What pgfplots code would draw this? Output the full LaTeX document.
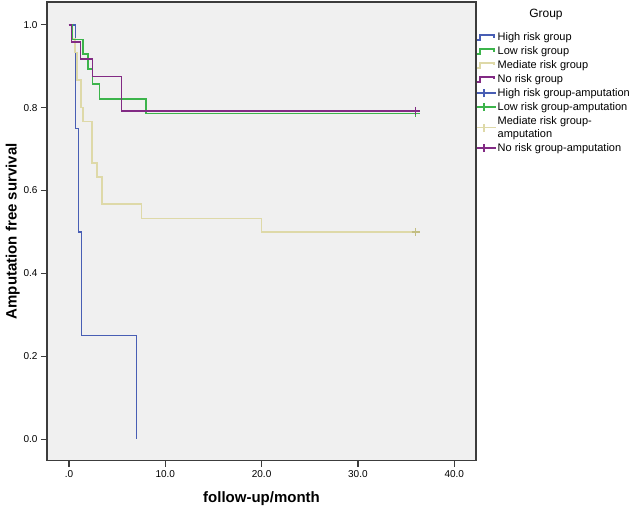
\documentclass[border=0pt]{standalone}
\usepackage{fontspec}
\setmainfont{Liberation Sans}
\usepackage{pgfplots}
\pgfplotsset{compat=1.18}
\definecolor{hiblue}{RGB}{72,94,180}
\definecolor{logreen}{RGB}{60,180,75}
\definecolor{medtan}{RGB}{222,217,168}
\definecolor{medtandk}{RGB}{195,190,130}
\definecolor{nopurple}{RGB}{130,42,132}
\definecolor{plotbg}{RGB}{240,240,240}
\definecolor{axisgray}{RGB}{60,60,60}
\pgfplotsset{
  stepleg/.style={legend image code/.code={
    \draw[##1] (0pt,-2.5pt) -- (3pt,-2.5pt) -- (3pt,2.5pt) -- (17pt,2.5pt) -- (17pt,0pt);}},
  censleg/.style={legend image code/.code={
    \draw[##1] (0pt,0pt) -- (19pt,0pt);
    \draw[##1] (7pt,-4pt) -- (7pt,4pt);}},
  kmline/.style={forget plot, const plot, line width=1.5pt, line join=miter},
}
\begin{document}
\begin{tikzpicture}
\begin{axis}[
  scale only axis, width=429pt, height=458.7pt,
  xmin=-2.28, xmax=42.26, ymin=-0.052, ymax=1.055,
  clip=false,
  axis background/.style={fill=plotbg},
  axis line style={draw=axisgray, line width=1.2pt},
  tick style={draw=axisgray, line width=1.2pt},
  xtick={0,10,20,30,40}, xticklabels={.0,10.0,20.0,30.0,40.0},
  ytick={0,0.2,0.4,0.6,0.8,1}, yticklabels={0.0,0.2,0.4,0.6,0.8,1.0},
  tick align=outside, xtick pos=bottom, ytick pos=left,
  major tick length=6pt,
  tick label style={font=\fontsize{10}{12}\selectfont},
  /pgf/number format/assume math mode=true,
  xlabel={follow-up/month}, ylabel={Amputation free survival},
  label style={font=\bfseries\fontsize{15}{17}\selectfont},
  xlabel style={at={(axis description cs:0.5,-0.0835)}, anchor=center},
  ylabel style={at={(axis description cs:-0.08,0.5)}, anchor=center},
  legend style={at={(axis description cs:1.0,0.935)}, anchor=north west,
    draw=none, fill=none, inner sep=0pt, row sep=2.4pt,
    font=\fontsize{11}{12}\selectfont,
    nodes={inner sep=1pt}},
  legend cell align=left,
]
% step curves
\addplot[kmline, hiblue] coordinates
  {(0,1) (0.7,0.75) (1.0,0.5) (1.3,0.25) (7.0,0)};
\addplot[kmline, medtan] coordinates
  {(0,1) (0.3,0.967) (0.65,0.933) (0.83,0.867) (1.25,0.80) (1.48,0.767)
   (2.4,0.667) (2.9,0.633) (3.45,0.567) (7.55,0.533) (20.0,0.5) (36,0.5)};
\addplot[kmline, logreen] coordinates
  {(0,1) (0.3,0.964) (1.48,0.929) (2.0,0.893) (2.46,0.857) (3.15,0.821)
   (8.0,0.786) (36,0.786)};
\addplot[kmline, nopurple] coordinates
  {(0,1) (0.28,0.958) (1.21,0.917) (2.46,0.875) (5.47,0.792) (36,0.792)};
% censored marks
\addplot[forget plot, only marks, mark=+, mark size=4pt, medtandk, line width=1.5pt]
  coordinates {(36,0.5)};
\addplot[forget plot, only marks, mark=+, mark size=4pt, logreen, line width=1.5pt]
  coordinates {(36,0.786)};
\addplot[forget plot, only marks, mark=+, mark size=4pt, nopurple, line width=1.5pt]
  coordinates {(36,0.792)};
% legend
\addlegendimage{stepleg, hiblue, line width=1.5pt}
\addlegendentry{High risk group}
\addlegendimage{stepleg, logreen, line width=1.5pt}
\addlegendentry{Low risk group}
\addlegendimage{stepleg, medtan, line width=1.5pt}
\addlegendentry{Mediate risk group}
\addlegendimage{stepleg, nopurple, line width=1.5pt}
\addlegendentry{No risk group}
\addlegendimage{censleg, hiblue, line width=1.5pt}
\addlegendentry{High risk group-amputation}
\addlegendimage{censleg, logreen, line width=1.5pt}
\addlegendentry{Low risk group-amputation}
\addlegendimage{censleg, medtan, line width=1.5pt}
\addlegendentry{\shortstack[l]{Mediate risk group-\\amputation}}
\addlegendimage{censleg, nopurple, line width=1.5pt}
\addlegendentry{No risk group-amputation}
\node[font=\fontsize{12}{14}\selectfont] at (axis description cs:1.163,0.972) {Group};
\end{axis}
\path (current axis.south west) ++(-47pt,-48.3pt) rectangle ++(634pt,509pt);
\end{tikzpicture}
\end{document}
